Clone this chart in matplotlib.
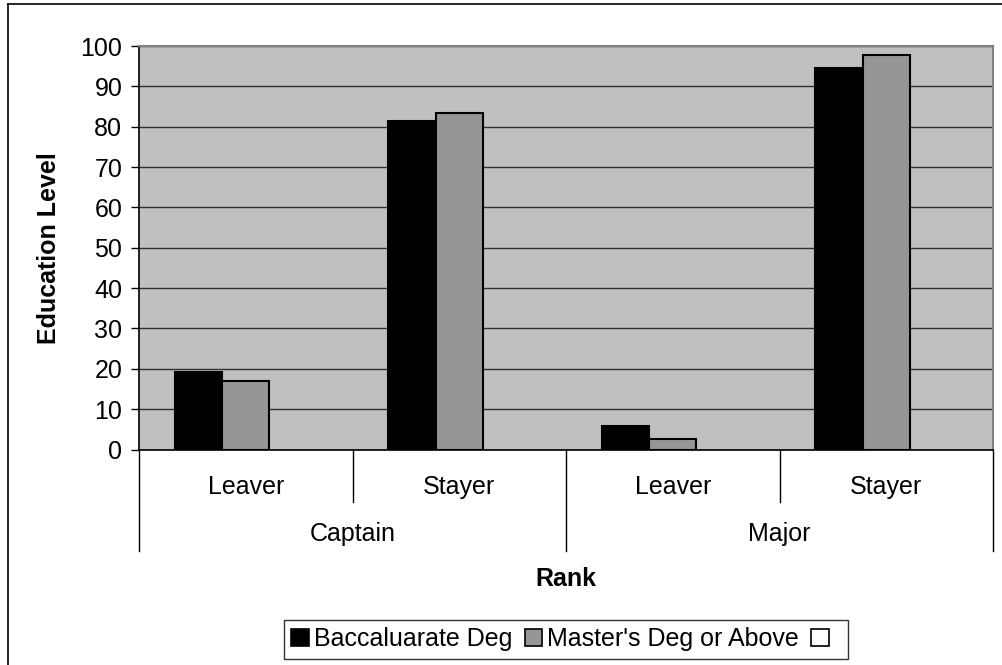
import matplotlib
matplotlib.use('Agg')
import matplotlib.pyplot as plt
from matplotlib.patches import Patch
from matplotlib.lines import Line2D
import matplotlib.transforms as mtransforms
import numpy as np

plt.rcParams['font.family'] = ['Liberation Sans', 'DejaVu Sans']

# data
ranks = ['Captain', 'Major']
status = ['Leaver', 'Stayer', 'Leaver', 'Stayer']
series_names = ['Baccaluarate Deg', "Master's Deg or Above", ' ']
bacc = [19.1, 81.3, 5.9, 94.5]
masters = [16.9, 83.4, 2.5, 97.7]
third = [0, 0, 0, 0]

FS = 18

fig = plt.figure(figsize=(10.03, 6.65), dpi=100)
ax = fig.add_axes([139/1003, 1 - 449.5/665, (993-139)/1003, (449.5-46)/665])

x = np.arange(len(status))
w = 1/4.5
colors = ['black', '#969696', 'white']
handles = []
for i, (vals, c, name) in enumerate(zip([bacc, masters, third], colors, series_names)):
    lw = 1.5 if max(vals) > 0 else 0
    ax.bar(x + (i-1)*w, vals, width=w, color=c, edgecolor='black', linewidth=lw, zorder=3)
    handles.append(Patch(facecolor=c, edgecolor='black', linewidth=1.2, label=name))

ax.set_facecolor('#C0C0C0')
ax.set_xlim(-0.5, 3.5)
ax.set_ylim(0, 100)
ax.set_yticks(np.arange(0, 101, 10))
ax.yaxis.grid(True, color='#303030', linewidth=1)
ax.set_axisbelow(True)
ax.tick_params(axis='y', direction='out', length=6, width=1, labelsize=FS, pad=6)
ax.set_xticks([])
for s in ['top', 'right']:
    ax.spines[s].set_color('#808080')
    ax.spines[s].set_linewidth(1.5)
for s in ['left', 'bottom']:
    ax.spines[s].set_color('black')
    ax.spines[s].set_linewidth(1.2)

# two-level category axis
trans = mtransforms.blended_transform_factory(ax.transData, ax.transAxes)
short_y = -52/403.5
long_y = -101.5/403.5
for b in [-0.5, 1.5, 3.5]:
    ax.add_line(Line2D([b, b], [0, long_y], color='black', lw=1, transform=trans, clip_on=False))
for b in [0.5, 2.5]:
    ax.add_line(Line2D([b, b], [0, short_y], color='black', lw=1, transform=trans, clip_on=False))
for xi, lab in zip(x, status):
    ax.text(xi, -37.5/403.5, lab, transform=trans, ha='center', va='center', fontsize=FS)
for gi, lab in enumerate(ranks):
    ax.text(gi*2 + 0.5, -85/403.5, lab, transform=trans, ha='center', va='center', fontsize=FS)

ax.text(0.5, -130/403.5, 'Rank', transform=ax.transAxes, ha='center', va='center',
        fontsize=FS, fontweight='bold')
ax.set_ylabel('Education Level', fontsize=FS, fontweight='bold')
ax.yaxis.set_label_coords(-78/854, 0.5)

leg = fig.legend(handles, series_names, loc='center', bbox_to_anchor=(566/1003, 26/665),
                 ncol=3, fontsize=FS, frameon=True, fancybox=False, handlelength=0.7,
                 handleheight=0.7, handletextpad=0.2, columnspacing=0.5, borderpad=0.3,
                 borderaxespad=0)
leg.get_frame().set_edgecolor('black')
leg.get_frame().set_linewidth(1)

# outer chart frame (left and top visible)
fig.add_artist(Line2D([8/1003, 8/1003], [0, 1 - 4/665], color='black', lw=1.2, transform=fig.transFigure))
fig.add_artist(Line2D([8/1003, 1], [1 - 4/665, 1 - 4/665], color='black', lw=1.2, transform=fig.transFigure))

plt.savefig('out.png', dpi=100)
plt.close(fig)
